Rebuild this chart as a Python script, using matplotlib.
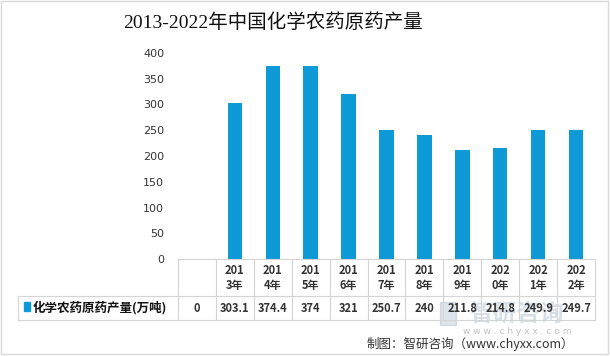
import matplotlib
matplotlib.use("Agg")
import matplotlib.pyplot as plt
from matplotlib.lines import Line2D
from matplotlib.patches import Rectangle

plt.rcParams['font.family'] = ['Noto Sans CJK SC', 'DejaVu Sans']

# data
categories = ['', '2013年', '2014年', '2015年', '2016年', '2017年',
              '2018年', '2019年', '2020年', '2021年', '2022年']
values = [0, 303.1, 374.4, 374, 321, 250.7, 240, 211.8, 214.8, 249.9, 249.7]
value_labels = ['0', '303.1', '374.4', '374', '321', '250.7', '240',
                '211.8', '214.8', '249.9', '249.7']
series_name = '化学农药原药产量(万吨)'
yticks = [0, 50, 100, 150, 200, 250, 300, 350, 400]

BAR = '#0e9ad6'
GRID = '#d4d4d4'
W, H = 610, 356

fig = plt.figure(figsize=(W / 100, H / 100), dpi=100)

def fx(px):
    return px / W

def fy(py):
    return 1 - py / H

# plot area in pixels
L, R, T, B = 178, 595, 53, 259
ax = fig.add_axes([fx(L), fy(B), fx(R) - fx(L), fy(T) - fy(B)])
x = list(range(len(categories)))
ax.bar(x, values, width=0.38, color=BAR, zorder=3)
ax.set_xlim(-0.5, len(categories) - 0.5)
ax.set_ylim(0, 400)
ax.set_yticks(yticks)
ax.set_yticklabels([str(t) for t in yticks], fontsize=8, color='#333333',
                   family=['DejaVu Sans'])
ax.tick_params(axis='y', length=0, pad=10)
ax.set_xticks([])
for s in ax.spines.values():
    s.set_visible(False)

# watermark (behind the table text)
fig.add_artist(Rectangle((fx(440), fy(325)), fx(16), fy(302) - fy(325),
                         color='#8fa6bf', alpha=0.3))
fig.text(fx(517), fy(314), '智研咨询', ha='center', va='center', fontsize=17,
         color='#8fa6bf', alpha=0.35, fontweight='bold', zorder=0)
fig.text(fx(517), fy(331), 'w w w . c h y x x . c o m', ha='center', va='center',
         fontsize=6.5, color='#c0c0c0', family=['DejaVu Sans'], zorder=0)

# data table
col_w = (R - L) / len(categories)
row1, row2 = 296, 320
def hline(y, x0, x1):
    fig.add_artist(Line2D([fx(x0), fx(x1)], [fy(y), fy(y)], color=GRID, lw=0.8))
def vline(xp, y0, y1):
    fig.add_artist(Line2D([fx(xp), fx(xp)], [fy(y0), fy(y1)], color=GRID, lw=0.8))

hline(B, L, R)
hline(row1, 18, R)
hline(row2, 18, R)
vline(18, row1, row2)
for i in range(len(categories) + 1):
    vline(L + i * col_w, B, row2)

for i, (cat, lab) in enumerate(zip(categories, value_labels)):
    cx = L + (i + 0.5) * col_w
    if cat:
        wrapped = cat[:3] + '\n' + cat[3:]
        fig.text(fx(cx), fy((B + row1) / 2), wrapped, ha='center', va='center',
                 fontsize=8, fontweight='bold', color='#333333', linespacing=1.2)
    fig.text(fx(cx), fy((row1 + row2) / 2), lab, ha='center', va='center',
             fontsize=8, fontweight='bold', color='#333333')

# legend key in table
fig.add_artist(Rectangle((fx(24), fy(311)), fx(6), fy(302) - fy(311), color=BAR))
fig.text(fx(33), fy(308), series_name, ha='left', va='center', fontsize=9,
         fontweight='bold', color='#111111')

# title
fig.text(fx(273), fy(23), '2013-2022年中国化学农药原药产量', ha='center', va='center',
         fontsize=14, color='#111111', family=['Liberation Serif', 'Noto Sans CJK SC'])

# source
fig.text(fx(470), fy(344), '制图：智研咨询（www.chyxx.com）', ha='center', va='center',
         fontsize=9, color='#333333')

# frame
fig.add_artist(Rectangle((fx(1), fy(354)), fx(607), fy(1) - fy(354), fill=False,
                         edgecolor='#d9d9d9', lw=1))

fig.savefig('out.png', dpi=100)
